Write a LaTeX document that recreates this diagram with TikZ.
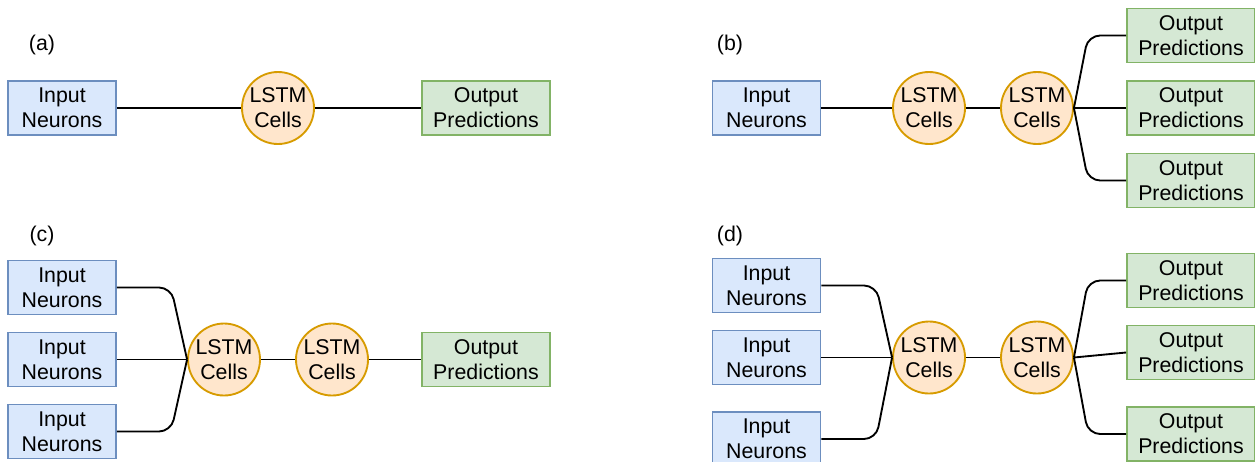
\documentclass[tikz,border=0pt]{standalone}
\usepackage{fontspec}
\setmainfont{Liberation Sans}
\definecolor{bfill}{HTML}{DAE8FC}
\definecolor{bstroke}{HTML}{6C8EBF}
\definecolor{ofill}{HTML}{FFE6CC}
\definecolor{ostroke}{HTML}{D79B00}
\definecolor{gfill}{HTML}{D5E8D4}
\definecolor{gstroke}{HTML}{82B366}
\begin{document}
\begin{tikzpicture}[x=0.75pt,y=-0.75pt,
  every node/.style={font=\fontsize{16}{18.7}\selectfont, align=center, inner sep=0pt},
  inbox/.style={draw=bstroke, fill=bfill, line width=1.4pt, minimum width=81pt, minimum height=40.5pt},
  outbox/.style={draw=gstroke, fill=gfill, line width=1.4pt, minimum width=96pt, minimum height=40.5pt},
  lstm/.style={circle, draw=ostroke, fill=ofill, line width=1.4pt, minimum size=54pt},
  conn/.style={line width=1.4pt, black, rounded corners=9pt},
  lab/.style={}
]
\useasboundingbox (0,0) rectangle (1255,461);

% (a)
\node[lab] (la) at (42,45) {(a)};
\node[inbox] (ai) at (62,108) {Input\\Neurons};
\node[lstm] (al) at (278,108) {LSTM\\Cells};
\node[outbox] (ao) at (486,108) {Output\\Predictions};
\draw[conn] (ai.east) -- (al.west);
\draw[conn] (al.east) -- (ao.west);

% (b)
\node[lab] (lb) at (730,45) {(b)};
\node[inbox] (bi) at (766.5,108) {Input\\Neurons};
\node[lstm] (bl1) at (929,108) {LSTM\\Cells};
\node[lstm] (bl2) at (1037,108) {LSTM\\Cells};
\node[outbox] (bo1) at (1191,35.5) {Output\\Predictions};
\node[outbox] (bo2) at (1191,108) {Output\\Predictions};
\node[outbox] (bo3) at (1191,180.5) {Output\\Predictions};
\draw[conn] (bi.east) -- (bl1.west);
\draw[conn] (bl1.east) -- (bl2.west);
\draw[conn] (bl2.east) -- ([xshift=-28.5pt]bo1.west) -- (bo1.west);
\draw[conn] (bl2.east) -- (bo2.west);
\draw[conn] (bl2.east) -- ([xshift=-28.5pt]bo3.west) -- (bo3.west);

% (c)
\node[lab] (lc) at (42,236) {(c)};
\node[inbox] (ci1) at (62,287.5) {Input\\Neurons};
\node[inbox] (ci2) at (62,359.5) {Input\\Neurons};
\node[inbox] (ci3) at (62,431.5) {Input\\Neurons};
\node[lstm] (cl1) at (224,359.5) {LSTM\\Cells};
\node[lstm] (cl2) at (332,359.5) {LSTM\\Cells};
\node[outbox] (co) at (486,359.5) {Output\\Predictions};
\draw[conn] (ci1.east) -- ([xshift=-12pt]cl1.west |- ci1.east) -- (cl1.west);
\draw[conn] (ci2.east) -- (cl1.west);
\draw[conn] (ci3.east) -- ([xshift=-12pt]cl1.west |- ci3.east) -- (cl1.west);
\draw[conn] (cl1.east) -- (cl2.west);
\draw[conn] (cl2.east) -- (co.west);

% (d)
\node[lab] (ld) at (730,236) {(d)};
\node[inbox] (di1) at (766.5,285.5) {Input\\Neurons};
\node[inbox] (di2) at (766.5,357.5) {Input\\Neurons};
\node[inbox] (di3) at (766.5,439) {Input\\Neurons};
\node[lstm] (dl1) at (929,357.5) {LSTM\\Cells};
\node[lstm] (dl2) at (1037,357.5) {LSTM\\Cells};
\node[outbox] (do1) at (1191,280.5) {Output\\Predictions};
\node[outbox] (do2) at (1191,352.5) {Output\\Predictions};
\node[outbox] (do3) at (1191,434) {Output\\Predictions};
\draw[conn] (di1.east) -- ([xshift=-12pt]dl1.west |- di1.east) -- (dl1.west);
\draw[conn] (di2.east) -- (dl1.west);
\draw[conn] (di3.east) -- ([xshift=-12pt]dl1.west |- di3.east) -- (dl1.west);
\draw[conn] (dl1.east) -- (dl2.west);
\draw[conn] (dl2.east) -- ([xshift=-28.5pt]do1.west) -- (do1.west);
\draw[conn] (dl2.east) -- (do2.west);
\draw[conn] (dl2.east) -- ([xshift=-28.5pt]do3.west) -- (do3.west);
\end{tikzpicture}
\end{document}
